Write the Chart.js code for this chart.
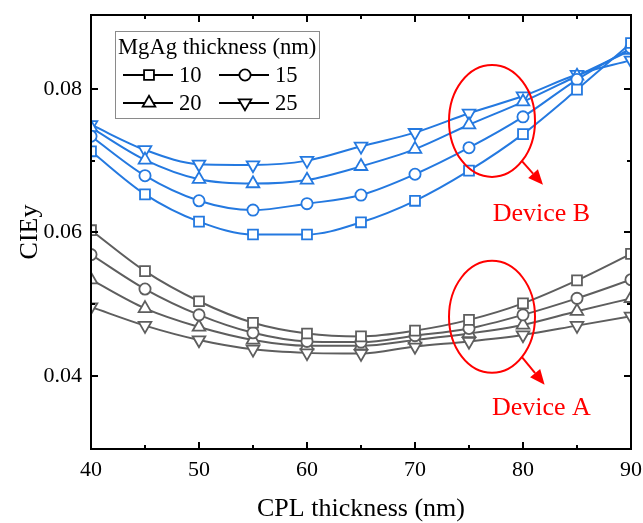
<!DOCTYPE html>
<html><head><meta charset="utf-8">
<script src="https://cdn.jsdelivr.net/npm/chart.js@4/dist/chart.umd.min.js"></script>
<style>html,body{margin:0;padding:0;background:#fff}#wrap{width:643px;height:523px;position:relative}</style>
</head><body><div id="wrap"><canvas id="c" width="643" height="523"></canvas></div>
<script>
// ---- data ----
const cplThickness = [40, 45, 50, 55, 60, 65, 70, 75, 80, 85, 90];
const mgagLabels = ['10', '15', '20', '25'];
const deviceB_10 = [0.0713, 0.0653, 0.0615, 0.0597, 0.0597, 0.0614, 0.0644, 0.0686, 0.0737, 0.0799, 0.0864];
const deviceB_15 = [0.0734, 0.0679, 0.0644, 0.0631, 0.0640, 0.0652, 0.0681, 0.0718, 0.0761, 0.0813, 0.0857];
const deviceB_20 = [0.0746, 0.0701, 0.0674, 0.0668, 0.0673, 0.0692, 0.0716, 0.0750, 0.0782, 0.0818, 0.0854];
const deviceB_25 = [0.0750, 0.0715, 0.0695, 0.0694, 0.0700, 0.0720, 0.0739, 0.0766, 0.0790, 0.0820, 0.0840];
const deviceA_10 = [0.0603, 0.0546, 0.0504, 0.0474, 0.0459, 0.0455, 0.0463, 0.0478, 0.0501, 0.0533, 0.0570];
const deviceA_15 = [0.0569, 0.0521, 0.0485, 0.0460, 0.0448, 0.0447, 0.0456, 0.0466, 0.0485, 0.0508, 0.0534];
const deviceA_20 = [0.0534, 0.0494, 0.0468, 0.0450, 0.0442, 0.0442, 0.0450, 0.0459, 0.0471, 0.0490, 0.0508];
const deviceA_25 = [0.0496, 0.0470, 0.0450, 0.0437, 0.0432, 0.0431, 0.0441, 0.0448, 0.0457, 0.0470, 0.0483];
const xTickValues = [40, 50, 60, 70, 80, 90];
const yTickValues = [0.04, 0.06, 0.08];
const xMinorStep = 5;
const yMinorStep = 0.01;

// ---- styles ----
const BLUE = '#2479e0';
const GRAY = '#5e5e5e';
const RED = '#ff0000';
const FONT = '"Liberation Serif", "Times New Roman", serif';
const markerStyles = [
  { pointStyle: 'rect', radius: 7, rotation: 0 },
  { pointStyle: 'circle', radius: 5.6, rotation: 0 },
  { pointStyle: 'triangle', radius: 7.3, rotation: 0 },
  { pointStyle: 'triangle', radius: 7.3, rotation: 180 }
];

function mkDataset(values, idx, color) {
  const m = markerStyles[idx];
  return {
    label: mgagLabels[idx],
    data: cplThickness.map((x, i) => ({ x: x, y: values[i] })),
    borderColor: color,
    backgroundColor: '#fff',
    borderWidth: 2,
    pointStyle: m.pointStyle,
    pointRadius: m.radius,
    pointRotation: m.rotation,
    pointBorderColor: color,
    pointBackgroundColor: '#fff',
    pointBorderWidth: 1.8,
    cubicInterpolationMode: 'monotone',
    fill: false
  };
}

const datasets = [
  mkDataset(deviceA_10, 0, GRAY), mkDataset(deviceA_15, 1, GRAY),
  mkDataset(deviceA_20, 2, GRAY), mkDataset(deviceA_25, 3, GRAY),
  mkDataset(deviceB_10, 0, BLUE), mkDataset(deviceB_15, 1, BLUE),
  mkDataset(deviceB_20, 2, BLUE), mkDataset(deviceB_25, 3, BLUE)
];

function drawMarker(ctx, style, x, y) {
  const r = style.radius;
  ctx.beginPath();
  if (style.pointStyle === 'rect') {
    const s = Math.SQRT1_2 * r;
    ctx.rect(x - s, y - s, 2 * s, 2 * s);
  } else if (style.pointStyle === 'circle') {
    ctx.arc(x, y, r, 0, Math.PI * 2);
  } else {
    let rad = style.rotation * Math.PI / 180;
    for (let k = 0; k < 3; k++) {
      const px = x + Math.sin(rad) * r, py = y - Math.cos(rad) * r;
      if (k === 0) ctx.moveTo(px, py); else ctx.lineTo(px, py);
      rad += 2 * Math.PI / 3;
    }
    ctx.closePath();
  }
  ctx.fill();
  ctx.stroke();
}

// annotations in data coordinates
const annotations = [
  { text: 'Device B', cx: 77.13, cy: 0.07554, arrowTo: [81.85, 0.06662], textAt: [81.7, 0.06258] },
  { text: 'Device A', cx: 77.13, cy: 0.04822, arrowTo: [82.0, 0.03875], textAt: [81.7, 0.0355] }
];

const framePlugin = {
  id: 'frame',
  afterDraw(chart) {
    const { ctx, chartArea: a, scales: { x, y } } = chart;
    ctx.save();
    // annotations
    ctx.strokeStyle = RED; ctx.fillStyle = RED; ctx.lineWidth = 2;
    annotations.forEach(an => {
      const cx = x.getPixelForValue(an.cx), cy = y.getPixelForValue(an.cy);
      ctx.beginPath();
      ctx.ellipse(cx, cy, 43, 56, 0, 0, Math.PI * 2);
      ctx.stroke();
      const t = 0.8;
      const sx = cx + 43 * Math.cos(t), sy = cy + 56 * Math.sin(t);
      const ex = x.getPixelForValue(an.arrowTo[0]), ey = y.getPixelForValue(an.arrowTo[1]);
      const ang = Math.atan2(ey - sy, ex - sx);
      const hl = 15, hw = 6.5;
      const bx = ex - hl * Math.cos(ang), by = ey - hl * Math.sin(ang);
      ctx.beginPath(); ctx.moveTo(sx, sy); ctx.lineTo(bx, by); ctx.stroke();
      ctx.beginPath();
      ctx.moveTo(ex, ey);
      ctx.lineTo(bx + hw * Math.sin(ang), by - hw * Math.cos(ang));
      ctx.lineTo(bx - hw * Math.sin(ang), by + hw * Math.cos(ang));
      ctx.closePath(); ctx.fill();
      ctx.font = '26px ' + FONT;
      ctx.textAlign = 'center'; ctx.textBaseline = 'middle';
      ctx.fillText(an.text, x.getPixelForValue(an.textAt[0]), y.getPixelForValue(an.textAt[1]));
    });

    // frame
    ctx.strokeStyle = '#000'; ctx.lineWidth = 2;
    ctx.strokeRect(a.left, a.top, a.right - a.left, a.bottom - a.top);
    ctx.beginPath();
    for (let v = x.min; v <= x.max + 1e-9; v += xMinorStep) {
      const px = Math.round(x.getPixelForValue(v));
      const len = xTickValues.includes(v) ? 7 : 4;
      ctx.moveTo(px, a.bottom); ctx.lineTo(px, a.bottom - len);
      ctx.moveTo(px, a.top); ctx.lineTo(px, a.top + len);
    }
    for (let k = 3; k <= 9; k++) {
      const v = k * yMinorStep;
      const py = Math.round(y.getPixelForValue(v));
      if (py < a.top + 3 || py > a.bottom - 3) continue;
      const major = yTickValues.some(t => Math.abs(t - v) < 1e-9);
      const len = major ? 7 : 4;
      ctx.moveTo(a.left, py); ctx.lineTo(a.left + len, py);
      ctx.moveTo(a.right, py); ctx.lineTo(a.right - len, py);
    }
    ctx.stroke();

    // axis titles
    ctx.fillStyle = '#000';
    ctx.font = '26px ' + FONT;
    ctx.textAlign = 'center'; ctx.textBaseline = 'alphabetic';
    ctx.fillText('CPL thickness (nm)', (a.left + a.right) / 2, 516);
    ctx.save();
    ctx.translate(37, (a.top + a.bottom) / 2);
    ctx.rotate(-Math.PI / 2);
    ctx.fillText('CIEy', 0, 0);
    ctx.restore();

    // legend
    const L = { x: 115, y: 31, w: 204, h: 87 };
    ctx.fillStyle = '#fff';
    ctx.fillRect(L.x, L.y, L.w, L.h);
    ctx.strokeStyle = '#8a8a8a'; ctx.lineWidth = 1;
    ctx.strokeRect(L.x + 0.5, L.y + 0.5, L.w, L.h);
    ctx.fillStyle = '#000';
    ctx.font = '22.6px ' + FONT;
    ctx.textAlign = 'left'; ctx.textBaseline = 'middle';
    ctx.fillText('MgAg thickness (nm)', 118, 48);
    const cols = [123, 219], rows = [75, 103];
    mgagLabels.forEach((lab, i) => {
      const lx = cols[i % 2], ly = rows[Math.floor(i / 2)];
      ctx.strokeStyle = '#000'; ctx.lineWidth = 2.2;
      ctx.beginPath(); ctx.moveTo(lx, ly); ctx.lineTo(lx + 50, ly); ctx.stroke();
      ctx.fillStyle = '#fff'; ctx.lineWidth = 1.8;
      drawMarker(ctx, markerStyles[i], lx + 26, ly);
      ctx.fillStyle = '#000';
      ctx.fillText(lab, lx + 56, ly + 1);
    });
    ctx.restore();
  }
};

new Chart(document.getElementById('c'), {
  type: 'line',
  data: { datasets: datasets },
  options: {
    responsive: false,
    animation: false,
    devicePixelRatio: 1,
    layout: { autoPadding: false, padding: { left: 0, right: 12, top: 15, bottom: 0 } },
    plugins: { legend: { display: false }, tooltip: { enabled: false } },
    scales: {
      x: {
        type: 'linear', min: 40, max: 90,
        afterBuildTicks: s => { s.ticks = xTickValues.map(v => ({ value: v })); },
        afterFit: s => { s.height = 523 - 449; s.paddingLeft = 0; s.paddingRight = 0; },
        grid: { display: false, drawTicks: false },
        border: { display: false },
        ticks: { padding: 8, color: '#000', font: { family: FONT, size: 22 }, maxRotation: 0 }
      },
      y: {
        type: 'linear', min: 0.0298, max: 0.0903,
        afterBuildTicks: s => { s.ticks = yTickValues.map(v => ({ value: v })); },
        afterFit: s => { s.width = 91; s.paddingTop = 0; s.paddingBottom = 0; },
        grid: { display: false, drawTicks: false },
        border: { display: false },
        ticks: { padding: 9, color: '#000', font: { family: FONT, size: 22 }, callback: v => v.toFixed(2) }
      }
    }
  },
  plugins: [framePlugin]
});
</script></body></html>
